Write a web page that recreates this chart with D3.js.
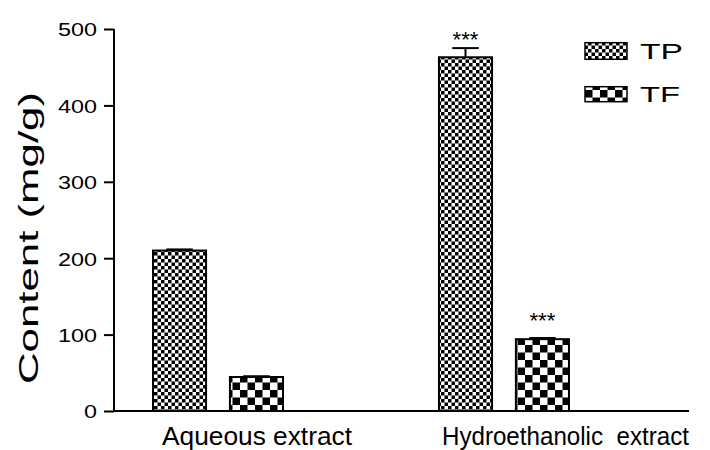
<!DOCTYPE html>
<html>
<head>
<meta charset="utf-8">
<script src="https://cdn.jsdelivr.net/npm/d3@7"></script>
<style>
  html, body { margin: 0; padding: 0; background: #fff; }
  svg text { font-family: "Liberation Sans", Arial, sans-serif; fill: #000; }
</style>
</head>
<body>
<svg id="chart" width="710" height="450"></svg>
<script>
// ---- data ----
const categories = ["Aqueous extract", "Hydroethanolic  extract"];
const series = ["TP", "TF"];
const tpValues = [210, 463];
const tfValues = [44.5, 94];
const tpErrors = [1.5, 12];
const tfErrors = [1, 1.5];
const tpSignif = ["", "***"];
const tfSignif = ["", "***"];
const tpSignifAt = [null, 476];
const tfSignifAt = [null, 108];
const yTicks = [0, 100, 200, 300, 400, 500];
const yTitle = "Content (mg/g)";

// ---- layout ----
const svg = d3.select("#chart");
const axisX = 114, axisRight = 689;
const y = d3.scaleLinear().domain([0, 500]).range([411, 29]);
const x0 = d3.scaleBand().domain(categories).range([axisX, axisRight])
  .paddingInner(0.262).paddingOuter(0.1364).align(0.5);
const x1 = d3.scaleBand().domain(series).range([0, 130]).paddingInner(0.31);

// patterns
const defs = svg.append("defs");
const fine = defs.append("pattern").attr("id", "patTP").attr("patternUnits", "userSpaceOnUse")
  .attr("width", 7).attr("height", 7);
fine.append("rect").attr("width", 7).attr("height", 7).attr("fill", "#fff");
fine.append("rect").attr("x", 0).attr("y", 0).attr("width", 3.5).attr("height", 3.5).attr("fill", "#000");
fine.append("rect").attr("x", 3.5).attr("y", 3.5).attr("width", 3.5).attr("height", 3.5).attr("fill", "#000");
const coarse = defs.append("pattern").attr("id", "patTF").attr("patternUnits", "userSpaceOnUse")
  .attr("width", 15).attr("height", 15);
coarse.append("rect").attr("width", 15).attr("height", 15).attr("fill", "#fff");
coarse.append("rect").attr("x", 0).attr("y", 0).attr("width", 7.5).attr("height", 7.5).attr("fill", "#000");
coarse.append("rect").attr("x", 7.5).attr("y", 7.5).attr("width", 7.5).attr("height", 7.5).attr("fill", "#000");
const fills = { TP: "url(#patTP)", TF: "url(#patTF)" };

const rows = [];
categories.forEach((c, i) => {
  rows.push({ cat: c, s: "TP", v: tpValues[i], e: tpErrors[i], sig: tpSignif[i], sigAt: tpSignifAt[i] });
  rows.push({ cat: c, s: "TF", v: tfValues[i], e: tfErrors[i], sig: tfSignif[i], sigAt: tfSignifAt[i] });
});

// error bars (upper only)
const eb = svg.append("g").attr("stroke", "#000").attr("stroke-width", 2);
rows.forEach(d => {
  const cx = x0(d.cat) + x1(d.s) + x1.bandwidth() / 2;
  eb.append("line").attr("x1", cx).attr("x2", cx).attr("y1", y(d.v)).attr("y2", y(d.v + d.e));
  eb.append("line").attr("x1", cx - x1.bandwidth() / 4).attr("x2", cx + x1.bandwidth() / 4)
    .attr("y1", y(d.v + d.e)).attr("y2", y(d.v + d.e));
});

// bars
svg.append("g").selectAll("rect").data(rows).join("rect")
  .attr("x", d => x0(d.cat) + x1(d.s))
  .attr("y", d => y(d.v))
  .attr("width", x1.bandwidth())
  .attr("height", d => y(0) - y(d.v))
  .attr("fill", d => fills[d.s])
  .attr("stroke", "#000").attr("stroke-width", 2);

// significance
svg.append("g").selectAll("text").data(rows.filter(d => d.sig)).join("text")
  .attr("x", d => x0(d.cat) + x1(d.s) + x1.bandwidth() / 2)
  .attr("y", d => y(d.sigAt))
  .attr("text-anchor", "middle")
  .attr("font-size", 22)
  .attr("textLength", 26).attr("lengthAdjust", "spacingAndGlyphs")
  .text(d => d.sig);

// y axis
const yAxis = d3.axisLeft(y).tickValues(yTicks).tickSize(10).tickSizeOuter(0).tickPadding(7);
const gy = svg.append("g").attr("transform", `translate(${axisX},0)`).call(yAxis);
gy.select(".domain").attr("stroke", "#000").attr("stroke-width", 2);
gy.selectAll(".tick line").attr("stroke", "#000").attr("stroke-width", 2);
gy.selectAll(".tick text")
  .attr("font-size", 19)
  .attr("font-family", "Liberation Sans, Arial, sans-serif")
  .attr("fill", "#000")
  .attr("dy", "0.36em")
  .attr("textLength", d => String(d).length * 13)
  .attr("lengthAdjust", "spacingAndGlyphs");
gy.select(".domain").attr("d", `M0,${y(500)}V${y(0)}`);

// x axis line
svg.append("line").attr("x1", axisX - 1).attr("x2", axisRight).attr("y1", y(0)).attr("y2", y(0))
  .attr("stroke", "#000").attr("stroke-width", 2);

// category labels
const labelShift = [9, 3];
const labelLen = [190, 247];
svg.append("g").selectAll("text").data(categories).join("text")
  .attr("x", (d, i) => x0(d) + labelShift[i])
  .attr("y", 444.5)
  .attr("font-size", 25)
  .attr("textLength", (d, i) => labelLen[i]).attr("lengthAdjust", "spacingAndGlyphs")
  .style("white-space", "pre")
  .text(d => d);

// y title
svg.append("text")
  .attr("transform", `translate(38,238) rotate(-90)`)
  .attr("text-anchor", "middle")
  .attr("font-size", 28)
  .attr("textLength", 292).attr("lengthAdjust", "spacingAndGlyphs")
  .text(yTitle);

// legend
const legend = svg.append("g");
const legendTop = [42.7, 86.7];
const legendH = [16.6, 15];
series.forEach((s, i) => {
  legend.append("rect").attr("x", 585).attr("y", legendTop[i]).attr("width", 42).attr("height", legendH[i])
    .attr("fill", fills[s]).attr("stroke", "#000").attr("stroke-width", 1.5);
  legend.append("text").attr("x", 640).attr("y", legendTop[i] + legendH[i])
    .attr("font-size", 22)
    .attr("textLength", i === 0 ? 43 : 40).attr("lengthAdjust", "spacingAndGlyphs")
    .text(s);
});
</script>
</body>
</html>
